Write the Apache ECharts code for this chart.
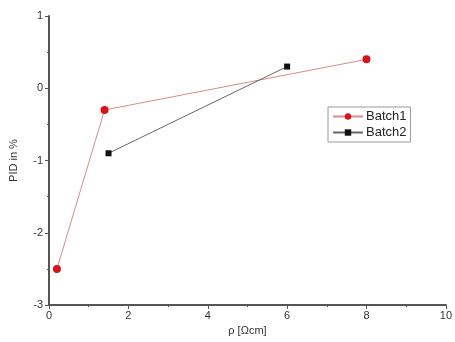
<!DOCTYPE html>
<html>
<head>
<meta charset="utf-8">
<script src="https://cdn.jsdelivr.net/npm/echarts@6/dist/echarts.min.js"></script>
<style>
  html, body { margin: 0; padding: 0; background: #fff; }
  #chart { width: 455px; height: 342px; }
</style>
</head>
<body>
<div id="chart"></div>
<script>
// values
var batch1X = [0.2, 1.4, 8];
var batch1Y = [-2.5, -0.3, 0.4];
var batch2X = [1.5, 6];
var batch2Y = [-0.9, 0.3];
var seriesNames = ['Batch1', 'Batch2'];

function pairs(xs, ys) {
	var out = [];
	for (var i = 0; i < xs.length; i++) {
		out.push([xs[i], ys[i]]);
	}
	return out;
}

var myChart = echarts.init(document.getElementById('chart'));
var axisFont = {fontFamily: 'Liberation Sans', fontSize: 11, color: '#333'};
var option = {
	animation: false,
	grid: {left: 49, right: 6, top: 16, bottom: 37},
	legend: {
		orient: 'vertical',
		left: 328,
		top: 107,
		data: seriesNames,
		itemWidth: 30,
		itemHeight: 8,
		itemGap: 3,
		padding: [3, 4, 3, 4],
		borderColor: '#999',
		borderWidth: 1,
		textStyle: {fontFamily: 'Liberation Sans', fontSize: 13, color: '#222', padding: [0, 0, 0, -2]}
	},
	xAxis: {
		type: 'value',
		min: 0, max: 10, interval: 2,
		name: 'ρ [Ωcm]',
		nameLocation: 'middle',
		nameGap: 20,
		nameTextStyle: {fontFamily: 'Liberation Sans', fontSize: 11, color: '#333'},
		axisLine: {show: true, onZero: false, lineStyle: {color: '#555', width: 2}},
		axisTick: {show: true, inside: false, length: 4, lineStyle: {color: '#555'}},
		minorTick: {show: true, splitNumber: 2, length: 2, lineStyle: {color: '#555'}},
		splitLine: {show: false},
		axisLabel: Object.assign({margin: 5}, axisFont)
	},
	yAxis: {
		type: 'value',
		min: -3, max: 1, interval: 1,
		name: 'PID in %',
		nameLocation: 'middle',
		nameGap: 30,
		nameTextStyle: {fontFamily: 'Liberation Sans', fontSize: 11, color: '#333'},
		axisLine: {show: true, onZero: false, lineStyle: {color: '#555', width: 2}},
		axisTick: {show: true, inside: false, length: 4, lineStyle: {color: '#555'}},
		minorTick: {show: true, splitNumber: 2, length: 2, lineStyle: {color: '#555'}},
		splitLine: {show: false},
		axisLabel: Object.assign({margin: 6}, axisFont)
	},
	series: [
		{
			name: seriesNames[0],
			type: 'line',
			data: pairs(batch1X, batch1Y),
			symbol: 'circle',
			symbolSize: 8,
			itemStyle: {color: '#d7141c'},
			lineStyle: {color: '#d98a8a', width: 1}
		},
		{
			name: seriesNames[1],
			type: 'line',
			data: pairs(batch2X, batch2Y),
			symbol: 'rect',
			symbolSize: 6,
			itemStyle: {color: '#111'},
			lineStyle: {color: '#666', width: 1}
		}
	]
};
myChart.setOption(option);
</script>
</body>
</html>
